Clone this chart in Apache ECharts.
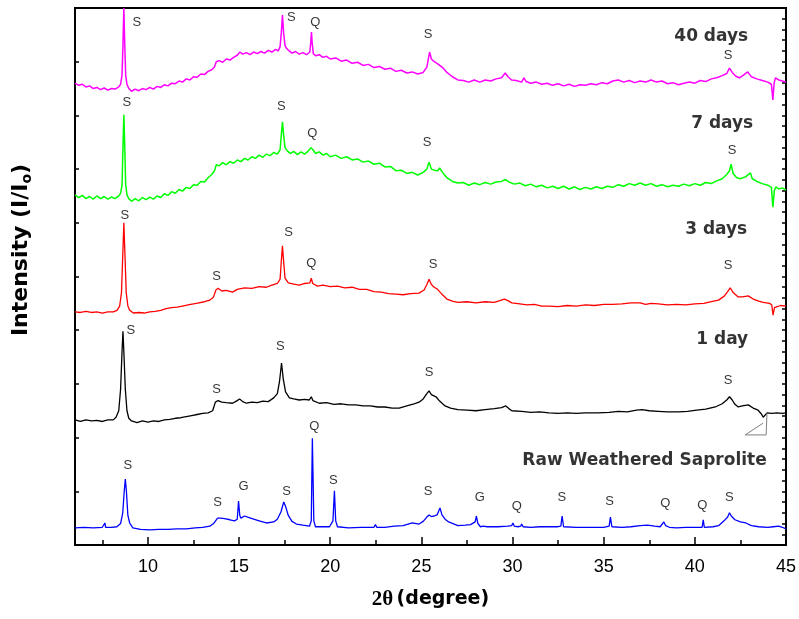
<!DOCTYPE html>
<html><head><meta charset="utf-8">
<script src="https://cdn.jsdelivr.net/npm/echarts@6/dist/echarts.min.js"></script>
<style>html,body{margin:0;padding:0;background:#fff}#c{width:799px;height:619px}</style>
</head><body><div id="c"></div>
<script>
// ---- axis ticks ----
const xTicks = [10, 15, 20, 25, 30, 35, 40, 45];
const xMinorTicks = [7.5, 12.5, 17.5, 22.5, 27.5, 32.5, 37.5, 42.5];

// ---- XRD patterns [2theta, intensity (a.u., stacked)] ----
const days40 = [[6.0,860],[6.2,856],[6.4,858],[6.6,853],[6.8,855],[7.0,850],[7.2,852],[7.4,848],[7.6,851],[7.8,847],[8.0,850],[8.2,849],[8.4,853],[8.5,858],[8.58,875],[8.63,930],[8.68,1000],[8.73,930],[8.78,875],[8.85,858],[8.95,850],[9.1,845],[9.3,849],[9.5,846],[9.7,850],[9.9,848],[10.1,852],[10.3,849],[10.5,854],[10.7,852],[10.9,857],[11.1,855],[11.3,860],[11.5,859],[11.7,864],[11.9,862],[12.1,868],[12.3,866],[12.5,872],[12.7,871],[12.9,877],[13.1,876],[13.3,882],[13.5,885],[13.65,890],[13.75,900],[13.9,902],[14.1,899],[14.3,905],[14.5,903],[14.7,908],[14.9,912],[15.05,918],[15.2,914],[15.4,917],[15.6,913],[15.8,918],[16.0,915],[16.2,919],[16.4,916],[16.6,921],[16.8,918],[17.0,923],[17.15,920],[17.25,928],[17.32,955],[17.38,987],[17.44,955],[17.52,930],[17.6,925],[17.75,920],[17.9,916],[18.1,919],[18.3,914],[18.5,917],[18.7,913],[18.88,918],[18.93,935],[18.97,955],[19.01,935],[19.07,915],[19.2,911],[19.4,913],[19.6,908],[19.8,910],[20.0,905],[20.3,907],[20.6,901],[20.9,903],[21.2,897],[21.5,899],[21.8,893],[22.1,895],[22.4,889],[22.7,891],[23.0,886],[23.3,888],[23.6,882],[23.9,884],[24.2,879],[24.5,881],[24.8,877],[25.1,880],[25.3,890],[25.45,918],[25.55,905],[25.7,900],[25.9,896],[26.0,898],[26.2,888],[26.4,880],[26.7,872],[27.0,866],[27.3,865],[27.6,862],[27.9,866],[28.2,862],[28.5,866],[28.8,864],[29.1,868],[29.4,870],[29.6,879],[29.75,872],[29.95,866],[30.2,865],[30.5,862],[30.62,870],[30.75,863],[31.0,860],[31.3,862],[31.6,858],[31.9,860],[32.2,856],[32.5,859],[32.8,855],[33.1,858],[33.4,854],[33.7,857],[34.0,856],[34.3,859],[34.6,857],[34.9,861],[35.2,859],[35.5,864],[35.8,866],[36.1,862],[36.4,865],[36.7,861],[37.0,864],[37.3,862],[37.6,866],[37.9,862],[38.2,864],[38.5,859],[38.8,861],[39.1,857],[39.4,860],[39.7,862],[40.0,860],[40.3,865],[40.6,863],[40.9,868],[41.2,870],[41.5,874],[41.75,878],[41.9,888],[42.05,880],[42.25,873],[42.45,870],[42.7,876],[42.9,881],[43.1,872],[43.4,868],[43.7,865],[44.0,862],[44.2,858],[44.28,829],[44.35,860],[44.42,870],[44.6,866],[44.8,864],[45.0,862]];

const days7 = [[6.0,652],[6.2,647],[6.4,651],[6.6,645],[6.8,649],[7.0,644],[7.2,650],[7.4,645],[7.6,649],[7.8,644],[8.0,648],[8.2,645],[8.4,650],[8.5,655],[8.58,670],[8.63,740],[8.68,801],[8.73,740],[8.78,672],[8.85,652],[8.95,645],[9.1,640],[9.3,645],[9.5,641],[9.7,647],[9.9,643],[10.1,648],[10.3,644],[10.5,650],[10.7,647],[10.9,654],[11.1,651],[11.3,658],[11.5,655],[11.7,662],[11.9,659],[12.1,666],[12.3,664],[12.5,671],[12.7,670],[12.9,677],[13.1,676],[13.3,684],[13.5,690],[13.65,697],[13.75,708],[13.9,706],[14.1,712],[14.3,708],[14.5,714],[14.7,711],[14.9,717],[15.1,714],[15.3,720],[15.5,717],[15.7,723],[15.9,720],[16.1,726],[16.3,722],[16.5,728],[16.7,725],[16.9,731],[17.1,728],[17.25,736],[17.32,765],[17.38,788],[17.44,765],[17.52,740],[17.65,734],[17.8,729],[18.0,733],[18.2,727],[18.4,732],[18.6,728],[18.8,734],[18.95,740],[19.05,736],[19.2,729],[19.4,732],[19.6,726],[19.8,729],[20.0,723],[20.3,726],[20.6,720],[20.9,723],[21.2,717],[21.5,719],[21.8,713],[22.1,715],[22.4,709],[22.7,711],[23.0,704],[23.3,705],[23.6,697],[23.9,698],[24.2,692],[24.5,694],[24.8,689],[25.1,694],[25.3,700],[25.42,713],[25.55,700],[25.7,698],[25.9,697],[26.0,702],[26.2,692],[26.4,684],[26.7,677],[27.0,674],[27.3,675],[27.6,670],[27.9,674],[28.2,671],[28.5,675],[28.8,672],[29.1,676],[29.4,677],[29.6,681],[29.8,676],[30.1,672],[30.4,674],[30.7,669],[31.0,672],[31.3,667],[31.6,670],[31.9,665],[32.2,668],[32.5,664],[32.8,668],[33.1,663],[33.4,667],[33.7,662],[34.0,666],[34.3,663],[34.6,667],[34.9,664],[35.2,668],[35.5,666],[35.8,671],[36.1,668],[36.4,673],[36.7,670],[37.0,674],[37.3,670],[37.6,673],[37.9,668],[38.2,671],[38.5,667],[38.8,670],[39.1,668],[39.4,672],[39.7,669],[40.0,673],[40.3,670],[40.6,675],[40.9,673],[41.2,678],[41.5,682],[41.75,690],[41.9,697],[41.99,709],[42.1,692],[42.3,684],[42.5,682],[42.8,686],[43.05,693],[43.15,682],[43.4,677],[43.7,673],[44.0,670],[44.2,666],[44.28,629],[44.36,660],[44.45,667],[44.6,663],[44.8,665],[45.0,661]];

const days3 = [[6.0,434],[6.3,433],[6.6,435],[6.9,433],[7.2,434],[7.5,432],[7.8,434],[8.1,434],[8.3,437],[8.45,445],[8.55,470],[8.62,540],[8.68,600],[8.74,540],[8.81,470],[8.9,445],[9.0,437],[9.2,432],[9.5,433],[9.8,432],[10.1,434],[10.4,435],[10.7,437],[11.0,440],[11.3,442],[11.6,443],[11.9,445],[12.2,447],[12.5,449],[12.8,451],[13.1,453],[13.4,456],[13.6,462],[13.73,475],[13.85,478],[14.05,473],[14.3,474],[14.64,471],[14.9,476],[15.3,479],[15.7,478],[16.1,481],[16.5,480],[16.8,484],[17.1,487],[17.25,495],[17.32,530],[17.38,557],[17.44,530],[17.52,497],[17.7,488],[18.0,486],[18.3,484],[18.6,487],[18.88,488],[18.96,497],[19.04,487],[19.3,482],[19.6,484],[20.0,481],[20.4,482],[20.8,479],[21.2,480],[21.6,476],[22.0,476],[22.4,472],[22.8,471],[23.2,468],[23.6,467],[24.0,466],[24.4,468],[24.87,469],[25.15,475],[25.3,485],[25.42,495],[25.55,485],[25.7,480],[25.86,477],[26.1,468],[26.4,458],[26.7,454],[27.0,452],[27.5,453],[28.0,451],[28.5,453],[29.0,452],[29.3,455],[29.55,458],[29.63,460],[29.75,455],[29.96,451],[30.4,449],[30.8,447],[31.2,448],[31.6,445],[32.0,445],[32.5,444],[33.0,446],[33.5,445],[34.0,447],[34.5,446],[35.0,448],[35.5,448],[36.0,449],[36.5,451],[37.0,451],[37.3,448],[37.6,450],[38.0,449],[38.5,447],[39.0,448],[39.5,447],[40.0,449],[40.5,450],[40.9,453],[41.3,456],[41.6,463],[41.8,472],[41.94,479],[42.1,470],[42.38,462],[42.6,462],[42.93,464],[43.2,458],[43.5,454],[43.75,452],[44.1,450],[44.22,447],[44.29,428],[44.37,442],[44.45,445],[44.7,446],[45.0,445]];

const day1 = [[6.0,233],[6.3,230],[6.6,233],[6.9,231],[7.2,232],[7.5,230],[7.8,233],[8.1,233],[8.25,238],[8.4,250],[8.5,290],[8.58,360],[8.63,398],[8.68,360],[8.76,290],[8.85,250],[8.95,236],[9.1,231],[9.4,228],[9.7,231],[10.0,229],[10.3,231],[10.6,230],[10.9,233],[11.2,234],[11.5,236],[11.8,237],[12.1,239],[12.4,241],[12.7,243],[13.0,245],[13.3,246],[13.55,250],[13.7,266],[13.85,269],[14.05,266],[14.3,265],[14.64,264],[14.85,268],[15.03,272],[15.2,267],[15.4,264],[15.7,266],[16.0,265],[16.3,268],[16.6,267],[16.9,274],[17.1,282],[17.22,305],[17.33,339],[17.42,310],[17.55,285],[17.76,274],[18.0,272],[18.3,270],[18.6,271],[18.85,270],[18.96,276],[19.05,269],[19.4,264],[19.8,265],[20.2,262],[20.6,263],[21.0,261],[21.4,261],[21.8,259],[22.2,259],[22.6,257],[23.0,257],[23.4,255],[23.78,255],[24.2,259],[24.6,263],[24.87,266],[25.1,272],[25.3,282],[25.42,287],[25.55,280],[25.8,276],[26.0,268],[26.3,259],[26.6,255],[27.0,252],[27.5,251],[28.0,250],[28.5,252],[29.0,254],[29.4,256],[29.63,259],[29.8,254],[29.96,250],[30.5,249],[31.0,247],[31.5,248],[32.0,246],[32.5,245],[33.0,246],[33.5,245],[34.0,246],[34.7,246],[35.3,247],[35.8,249],[36.3,248],[36.8,251],[37.1,252],[37.5,250],[38.0,249],[38.5,248],[39.1,248],[39.6,249],[40.1,251],[40.6,253],[41.12,257],[41.5,263],[41.75,270],[41.9,276],[42.05,270],[42.2,262],[42.38,257],[42.6,259],[42.93,261],[43.2,255],[43.47,251],[43.65,244],[43.75,238],[43.85,240],[43.96,246],[44.2,245],[44.5,246],[44.8,245],[45.0,246]];

const day1Artifact = [[43.75,227],[42.76,205],[43.91,205],[43.96,246]];

const raw = [[6.0,32],[6.5,33],[7.0,32],[7.5,33],[7.6,34],[7.64,41],[7.68,33],[8.0,33],[8.3,34],[8.5,40],[8.62,60],[8.7,100],[8.76,123],[8.82,100],[8.9,55],[9.0,41],[9.17,32],[9.6,29],[10.1,28],[10.6,29],[11.1,29],[11.6,30],[12.1,30],[12.6,32],[13.0,33],[13.4,35],[13.6,40],[13.82,50],[14.0,50],[14.2,49],[14.5,47],[14.75,45],[14.9,48],[14.97,82],[15.04,55],[15.1,50],[15.3,54],[15.55,51],[15.8,48],[16.1,45],[16.5,41],[16.9,43],[17.1,48],[17.3,62],[17.45,80],[17.55,72],[17.7,55],[17.9,44],[18.15,39],[18.5,37],[18.86,35],[18.96,45],[19.02,199],[19.1,45],[19.19,34],[19.6,34],[19.96,34],[20.15,45],[20.23,101],[20.3,45],[20.4,34],[21.0,32],[21.7,33],[22.4,33],[22.48,38],[22.55,33],[23.0,33],[23.5,35],[24.0,36],[24.5,41],[24.87,39],[25.1,44],[25.3,52],[25.42,56],[25.55,53],[25.7,54],[25.86,56],[26.02,69],[26.13,56],[26.3,48],[26.5,43],[27.0,36],[27.4,37],[27.7,38],[27.95,43],[28.02,54],[28.1,40],[28.24,34],[28.4,35],[28.5,38],[28.6,34],[29.2,34],[29.74,35],[29.95,36],[30.02,41],[30.1,35],[30.3,34],[30.45,35],[30.5,39],[30.58,34],[31.0,33],[31.5,34],[31.98,34],[32.3,34],[32.38,36],[32.45,34],[32.65,35],[32.72,54],[32.8,34],[33.5,33],[34.2,33],[35.0,33],[35.3,35],[35.37,52],[35.45,34],[36.0,33],[36.5,34],[37.0,36],[37.4,37],[37.8,35],[38.1,34],[38.3,43],[38.4,36],[38.5,38],[38.6,33],[39.0,32],[39.5,33],[40.0,33],[40.4,33],[40.46,47],[40.52,33],[41.0,34],[41.3,36],[41.6,45],[41.8,52],[41.9,60],[42.0,54],[42.2,47],[42.5,43],[42.8,41],[43.1,36],[43.5,34],[44.0,33],[44.3,34],[44.6,35],[44.8,33],[45.0,30]];

// ---- phase annotations [2theta, intensity, phase] ----
const phaseLabels = [
  [9.39,974,'S'],[17.87,983,'S'],[19.18,974,'Q'],[25.37,950,'S'],[41.83,911,'S'],
  [8.84,825,'S'],[17.32,816,'S'],[19.02,767,'Q'],[25.31,750,'S'],[42.05,735,'S'],
  [8.74,614,'S'],[13.77,501,'S'],[17.71,583,'S'],[18.96,525,'Q'],[25.64,523,'S'],[41.83,520,'S'],
  [9.06,400,'S'],[13.77,289,'S'],[17.27,369,'S'],[25.42,322,'S'],[41.83,307,'S'],
  [8.90,149,'S'],[13.82,80,'S'],[15.25,110,'G'],[17.6,99,'S'],[19.13,220,'Q'],[20.17,121,'S'],
  [25.37,99,'S'],[28.21,88,'G'],[30.23,71,'Q'],[32.70,88,'S'],[35.32,82,'S'],[38.38,78,'Q'],
  [40.41,73,'Q'],[41.89,89,'S']
];
const sampleLabels = [
  [40.9,946,'40 days'],[41.5,784,'7 days'],[41.17,588,'3 days'],[41.5,382,'1 day'],[37.24,158,'Raw Weathered Saprolite']
];

const chart = echarts.init(document.getElementById('c'), null, {renderer:'canvas'});
const line = (name, data, color, w) => ({
  name, type:'line', data, showSymbol:false, symbol:'none', clip:true, silent:true,
  lineStyle:{color, width:w||1.3}, emphasis:{disabled:true}, z:3
});
chart.setOption({
  animation:false,
  backgroundColor:'#fff',
  grid:{left:75, right:11, top:8, bottom:74, show:true, borderColor:'#000', borderWidth:2, backgroundColor:'transparent'},
  xAxis:[{
    type:'value', min:6, max:45,
    axisLine:{show:true, onZero:false, lineStyle:{color:'#000', width:2}},
    axisTick:{show:true, inside:true, length:8, customValues:xTicks, lineStyle:{color:'#000', width:1.5}},
    axisLabel:{show:true, customValues:xTicks, margin:13, color:'#000', fontFamily:'Liberation Sans', fontSize:18},
    splitLine:{show:false},
    name:'{a|2θ} {b|(degree)}', nameLocation:'middle', nameGap:44,
    nameTextStyle:{rich:{a:{fontFamily:'Liberation Serif', fontWeight:'bold', fontSize:21, color:'#000'}, b:{fontFamily:'DejaVu Sans', fontWeight:'bold', fontSize:19, color:'#000'}}}
  },{
    type:'value', min:6, max:45, position:'bottom', gridIndex:0,
    axisLine:{show:false}, axisLabel:{show:false}, splitLine:{show:false},
    axisTick:{show:true, inside:true, length:5, customValues:xMinorTicks, lineStyle:{color:'#000', width:1.5}}
  }],
  yAxis:[{
    type:'value', min:0, max:1000, interval:100, position:'left',
    axisLine:{show:true, onZero:false, lineStyle:{color:'#000', width:2}},
    axisTick:{show:true, inside:true, length:4, lineStyle:{color:'#000', width:1.5}},
    axisLabel:{show:false}, splitLine:{show:false}
  },{
    type:'value', min:0, max:1000, interval:100, position:'right',
    axisLine:{show:true, onZero:false, lineStyle:{color:'#000', width:2}},
    axisTick:{show:true, inside:true, length:4, lineStyle:{color:'#000', width:1.5}},
    minorTick:{show:true, splitNumber:5, length:4, lineStyle:{color:'#000', width:1.5}},
    axisLabel:{show:false}, splitLine:{show:false}
  }],
  graphic:[{
    type:'text', x:21, y:250, rotation:Math.PI/2,
    style:{
      text:'{a|Intensity (I/I}{s|o}{a|)}',
      rich:{a:{fontFamily:'DejaVu Sans', fontWeight:'bold', fontSize:22, fill:'#000'},
            s:{fontFamily:'DejaVu Sans', fontWeight:'bold', fontSize:14, fill:'#000', padding:[12,0,0,0]}},
      align:'center', verticalAlign:'middle'
    }
  }],
  series:[
    line('Raw Weathered Saprolite', raw, '#0000ff'),
    line('1 day', day1, '#000000'),
    line('1 day artifact', day1Artifact, '#808080', 1),
    line('3 days', days3, '#ff0000'),
    line('7 days', days7, '#00ff00', 1.5),
    line('40 days', days40, '#ff00ff', 1.5),
    {type:'scatter', data:phaseLabels, symbolSize:0, silent:true, z:5, clip:false,
     label:{show:true, position:'inside', formatter:p=>p.value[2], color:'#000', textBorderWidth:0, fontFamily:'Liberation Sans', fontSize:13}},
    {type:'scatter', data:sampleLabels, symbolSize:0, silent:true, z:5, clip:false,
     label:{show:true, position:'inside', formatter:p=>p.value[2], color:'#000', textBorderWidth:0, fontFamily:'DejaVu Sans', fontWeight:'bold', fontSize:17}}
  ]
});
</script>
</body></html>
